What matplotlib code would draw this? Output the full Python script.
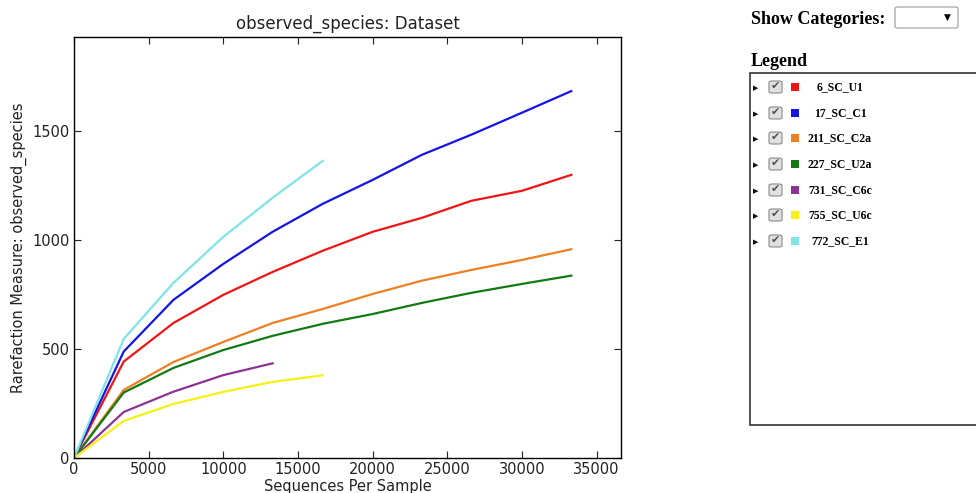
import numpy as np
import matplotlib
matplotlib.use("Agg")
import matplotlib.pyplot as plt
from matplotlib.patches import Rectangle, FancyBboxPatch

# rarefaction depths (sequences per sample)
depths = [0, 3330, 6660, 10000, 13300, 16650, 20000, 23300, 26600, 30000, 33300]

samples = ["6_SC_U1", "17_SC_C1", "211_SC_C2a", "227_SC_U2a",
           "731_SC_C6c", "755_SC_U6c", "772_SC_E1"]
colors = ["#f01414", "#1414e6", "#ef7f22", "#137a13",
          "#8c3394", "#f7f012", "#7fe3ea"]

s_6_SC_U1 = [0, 442, 619, 748, 853, 950, 1037, 1101, 1179, 1225, 1298]
s_17_SC_C1 = [0, 488, 725, 890, 1037, 1165, 1275, 1390, 1482, 1583, 1682]
s_211_SC_C2a = [0, 312, 440, 532, 619, 683, 752, 813, 862, 908, 957]
s_227_SC_U2a = [0, 300, 413, 495, 560, 615, 660, 711, 757, 798, 836]
s_731_SC_C6c = [0, 211, 304, 380, 434]
s_755_SC_U6c = [0, 170, 248, 303, 349, 379]
s_772_SC_E1 = [0, 546, 803, 1014, 1193, 1362]

series = [s_6_SC_U1, s_17_SC_C1, s_211_SC_C2a, s_227_SC_U2a,
          s_731_SC_C6c, s_755_SC_U6c, s_772_SC_E1]

W, H = 976, 493
fig = plt.figure(figsize=(W / 100, H / 100), dpi=100)


def fx(px):
    return px / W


def fy(py):
    return 1 - py / H


ax = fig.add_axes([fx(74), fy(458), fx(621) - fx(74), fy(37) - fy(458)])
for name, vals, c in zip(samples, series, colors):
    ax.plot(depths[:len(vals)], vals, color=c, lw=1.6, label=name)

ax.set_xlim(0, 36630)
ax.set_ylim(0, 1930)
ax.set_xticks([0, 5000, 10000, 15000, 20000, 25000, 30000, 35000])
ax.set_yticks([0, 500, 1000, 1500])
ax.tick_params(direction="in", top=True, right=True, length=5,
               labelsize=10.5, colors="#222222", pad=3)
for sp in ax.spines.values():
    sp.set_linewidth(1.0)
ax.set_title("observed_species: Dataset", fontsize=12, pad=6, color="#222222")
ax.set_xlabel("Sequences Per Sample", fontsize=10.5, labelpad=1, color="#222222")
ax.set_ylabel("Rarefaction Measure: observed_species", fontsize=10.5,
              labelpad=4, color="#222222")

# side panel drawn like the html legend
serif = "Liberation Serif"
fig.text(fx(751), fy(19), "Show Categories:", fontsize=13, fontweight="bold",
         family=serif, va="center", ha="left")
fig.add_artist(FancyBboxPatch((fx(895), fy(28)), fx(63), fy(7) - fy(28),
                              boxstyle="round,pad=0,rounding_size=0.003",
                              transform=fig.transFigure, fc="white",
                              ec="#9a9a9a", lw=0.8))
fig.text(fx(947), fy(17), "\u25bc", fontsize=6.5, va="center", ha="center",
         family="DejaVu Sans")
fig.text(fx(751), fy(61), "Legend", fontsize=13, fontweight="bold",
         family=serif, va="center", ha="left")
fig.add_artist(Rectangle((fx(750), fy(425)), fx(240), fy(73) - fy(425),
                         transform=fig.transFigure, fc="white",
                         ec="#333333", lw=1.2))

row_y = [87, 113, 138, 164, 190, 215, 241]
for name, c, ry in zip(samples, colors, row_y):
    fig.text(fx(756), fy(ry + 1), "\u25b6", fontsize=5, va="center",
             ha="center", family="DejaVu Sans", color="#111111")
    fig.add_artist(FancyBboxPatch((fx(769), fy(ry + 6)), fx(13), fy(ry - 6) - fy(ry + 6),
                                  boxstyle="round,pad=0,rounding_size=0.003",
                                  transform=fig.transFigure, fc="#e0e0e0",
                                  ec="#8a8a8a", lw=0.8))
    fig.text(fx(775.5), fy(ry - 1), "\u2714", fontsize=8, va="center",
             ha="center", family="DejaVu Sans", color="#505050")
    fig.add_artist(Rectangle((fx(791), fy(ry + 4)), fx(8), fy(ry - 4) - fy(ry + 4),
                             transform=fig.transFigure, fc=c, ec="none"))
    fig.text(fx(840), fy(ry), name, fontsize=8.5, fontweight="bold",
             family=serif, va="center", ha="center")

fig.savefig("out.png", dpi=100)
